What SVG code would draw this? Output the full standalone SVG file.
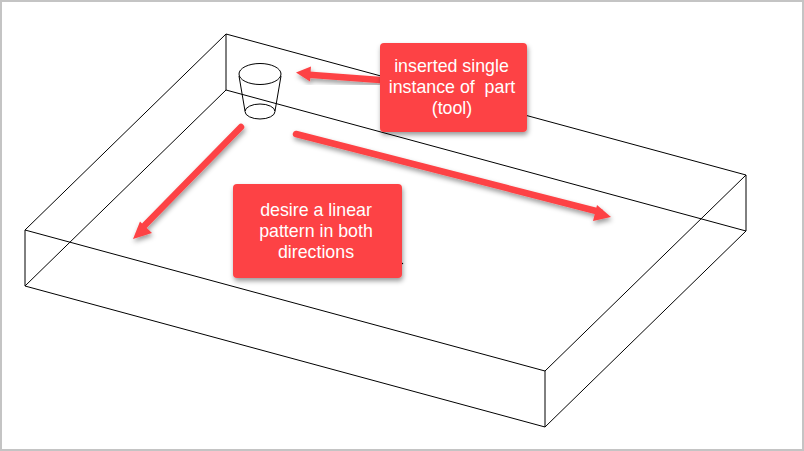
<svg xmlns="http://www.w3.org/2000/svg" width="804" height="451" viewBox="0 0 804 451">
<style>
.w{fill:none;stroke:#000;stroke-width:1}
.c{fill:#fd4345;filter:url(#s)}
.a{fill:none;stroke:#fd4345;stroke-width:6.500;stroke-linecap:round}
.h{fill:#fd4345;stroke:none}
.ar{filter:url(#s)}
text{font-family:"Liberation Sans",Arial,sans-serif;font-size:17.800px;fill:#fff;text-anchor:middle;white-space:pre}
</style>
<defs>
<filter id="s" x="-20%" y="-20%" width="140%" height="140%"><feDropShadow dx="1" dy="3" stdDeviation="2.5" flood-color="#000" flood-opacity="0.4"/></filter>
</defs>
<rect x="1" y="1" width="802" height="449" fill="#fff" stroke="#c4c4c4" stroke-width="2"/>
<g id="box" class="w">
<path class="w" d="M226 34L746 175L545 371L25 230Z"/>
<path class="w" d="M226 34V90M25 230V286M545 371V427M746 175V231"/>
<path class="w" d="M226 90L746 231L545 427L25 286Z"/>
</g>
<g id="cup" class="w">
<ellipse class="w" cx="260" cy="74" rx="21" ry="10.500"/>
<ellipse class="w" cx="260" cy="111.500" rx="15" ry="7.500"/>
<path class="w" d="M239 76L245 111M281 76L275 111"/>
</g>
<circle cx="402.500" cy="263.500" r="0.700" fill="#000"/>
<g id="connectors">
<g class="ar"><path class="a" d="M380 80L306 74.500"/><path class="h" d="M296 72.500L311 66.500L310 81.500Z"/></g>
<g class="ar"><path class="a" d="M241 127L145 225"/><path class="h" d="M133 239L140 221.500L152 233Z"/></g>
<g class="ar"><path class="a" d="M296 134L600 212"/><path class="h" d="M611 217L597 205L593 221Z"/></g>
</g>
<g id="callout-part">
<rect class="c" x="380" y="43" width="147" height="89" rx="4"/>
<text x="451.500" y="72">inserted single</text>
<text x="452" y="93">instance of  part</text>
<text x="452" y="114">(tool)</text>
</g>
<g id="callout-pattern">
<rect class="c" x="233" y="184" width="169" height="94" rx="4"/>
<text x="316" y="216">desire a linear</text>
<text x="316" y="237">pattern in both</text>
<text x="316" y="258">directions</text>
</g>
</svg>
